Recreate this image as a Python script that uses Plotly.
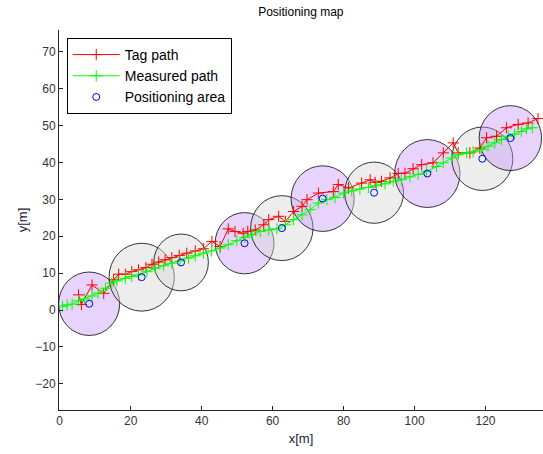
import plotly.graph_objects as go

# ---- data ----
tag_x = [5.3, 6.1, 9.1, 12.4, 15.2, 16.6, 18.5, 20.3, 22.2, 24.3, 26.0, 27.9, 29.7, 31.6, 33.7,
         35.8, 38.2, 40.5, 42.9, 45.2, 47.5, 49.4, 51.7, 53.0, 55.1, 57.5, 58.9, 61.7, 63.6, 65.9,
         68.3, 69.7, 72.9, 77.1, 78.5, 81.4, 85.1, 87.5, 88.9, 90.7, 93.1, 95.4, 97.3, 99.6, 102.0,
         105.2, 108.1, 110.9, 112.3, 115.6, 118.4, 120.3, 123.1, 125.9, 129.2, 132.0, 134.8]
tag_y = [4.1, 1.5, 6.8, 4.5, 8.2, 9.7, 9.7, 10.4, 10.9, 11.5, 12.4, 13.0, 13.6, 14.2, 14.8,
         15.4, 16.0, 16.6, 18.6, 17.2, 22.0, 21.3, 20.8, 21.3, 21.7, 23.1, 24.5, 25.4, 24.0, 26.7,
         28.1, 29.9, 31.7, 32.1, 34.0, 33.1, 34.4, 35.3, 34.6, 34.9, 35.8, 37.0, 37.1, 38.3, 39.4,
         39.9, 42.6, 45.3, 42.6, 42.6, 43.9, 46.7, 47.1, 49.4, 50.3, 50.7, 51.9]

meas_x = [0.8, 2.1, 3.5, 5.3, 7.0, 9.1, 10.8, 12.9, 14.7, 16.1, 18.5, 20.3, 22.2, 24.6, 26.9,
          29.3, 31.6, 33.9, 36.3, 38.2, 40.5, 42.8, 45.2, 47.5, 49.9, 52.2, 54.2, 56.5, 58.9, 61.2,
          63.6, 65.9, 68.3, 70.6, 72.9, 75.3, 77.6, 80.0, 82.3, 84.6, 87.0, 89.3, 91.7, 94.0, 96.3,
          98.7, 101.0, 103.4, 106.2, 108.1, 110.4, 112.3, 114.7, 116.5, 118.9, 120.7, 122.6, 124.5,
          126.4, 128.2, 130.1, 131.5, 133.2]
meas_y = [1.0, 1.4, 1.6, 2.5, 3.0, 3.8, 4.6, 5.9, 7.3, 7.9, 8.6, 9.1, 9.5, 10.4, 11.3,
          12.0, 12.7, 13.3, 14.1, 14.7, 15.4, 16.0, 16.8, 17.7, 18.8, 19.7, 20.4, 21.3, 21.7, 22.0,
          23.1, 24.5, 25.8, 27.2, 29.0, 29.9, 30.5, 31.7, 32.3, 32.8, 33.2, 33.7, 34.2, 34.9, 35.3,
          36.1, 36.8, 37.5, 38.9, 39.9, 41.2, 42.1, 42.6, 42.9, 43.5, 44.4, 45.3, 46.2,
          47.1, 47.7, 48.4, 49.1, 49.4]

area_x = [8.3, 23.1, 34.2, 52.1, 62.6, 74.1, 88.6, 103.6, 119.1, 127.0]
area_y = [1.7, 8.9, 12.9, 18.1, 22.2, 30.2, 31.8, 37.0, 41.0, 46.6]
area_r = [8.6, 9.2, 7.7, 8.3, 8.8, 8.9, 8.3, 9.2, 8.6, 8.8]
area_kind = ["p", "g", "g", "p", "g", "p", "g", "p", "g", "p"]

x_ticks = [0, 20, 40, 60, 80, 100, 120]
y_ticks = [-20, -10, 0, 10, 20, 30, 40, 50, 60, 70]

FONT = "Liberation Sans, Arial, sans-serif"
fills = {"p": "rgba(200,150,248,0.42)", "g": "rgba(215,215,215,0.45)"}

fig = go.Figure()

shapes = []
for cx, cy, r, k in zip(area_x, area_y, area_r, area_kind):
    shapes.append(dict(type="circle", xref="x", yref="y",
                       x0=cx - r, x1=cx + r, y0=cy - r, y1=cy + r,
                       fillcolor=fills[k], line=dict(color="rgba(20,20,20,0.85)", width=1),
                       layer="below"))

fig.add_trace(go.Scatter(x=tag_x, y=tag_y, mode="lines+markers", name="Tag path",
                         line=dict(color="#ff0000", width=1),
                         marker=dict(symbol="cross-thin", size=8,
                                     line=dict(color="#ff0000", width=1))))
fig.add_trace(go.Scatter(x=meas_x, y=meas_y, mode="lines+markers", name="Measured path",
                         line=dict(color="#00ff00", width=1),
                         marker=dict(symbol="cross-thin", size=8,
                                     line=dict(color="#00ff00", width=1))))
fig.add_trace(go.Scatter(x=area_x, y=area_y, mode="markers", name="Positioning area",
                         marker=dict(symbol="circle-open", size=7, color="#0000ff",
                                     line=dict(color="#0000ff", width=1))))

axis_common = dict(showline=True, linecolor="#262626", linewidth=1, showgrid=False,
                   zeroline=False, ticks="inside", ticklen=4, tickcolor="#262626",
                   automargin=False,
                   tickfont=dict(family=FONT, size=12, color="#333333"))

fig.update_layout(
    width=543, height=454,
    margin=dict(l=59, r=0, t=30, b=44, autoexpand=False),
    paper_bgcolor="white", plot_bgcolor="white",
    shapes=shapes,
    title=dict(text="Positioning map", x=0.554, y=0.974, xanchor="center", yanchor="middle",
               font=dict(family=FONT, size=12, color="#000000")),
    xaxis=dict(range=[-0.2, 136.2], tickvals=x_ticks, **axis_common,
               title=dict(text="x[m]", standoff=6, font=dict(family=FONT, size=13, color="#1a1a40"))),
    yaxis=dict(range=[-27.1, 75.9], tickvals=y_ticks, **axis_common,
               title=dict(text="y[m]", standoff=4, font=dict(family=FONT, size=13, color="#1a1a40"))),
    legend=dict(x=0.016, y=0.979, xanchor="left", yanchor="top",
                bgcolor="white", bordercolor="#000000", borderwidth=1,
                font=dict(family=FONT, size=14, color="#000000"),
                itemwidth=47, tracegroupgap=0),
    showlegend=True,
)

fig.write_html("out.html", config={"displayModeBar": False},
               post_script="document.body.style.margin='0';document.body.style.overflow='hidden';")
